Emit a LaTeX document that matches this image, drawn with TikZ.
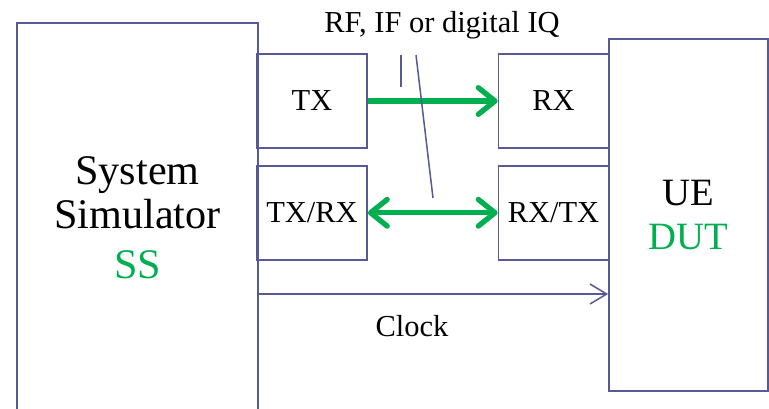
\documentclass[tikz,border=0pt]{standalone}
\usepackage{fontspec}
\setmainfont{Liberation Serif}
\usepackage{xcolor}
\usetikzlibrary{positioning,arrows.meta}
\definecolor{framecol}{RGB}{87,90,148}
\definecolor{signalgreen}{RGB}{0,176,80}

\begin{document}
\begin{tikzpicture}[
    x=0.03cm,
    y=-0.03cm,
    >={Straight Barb[length=0.5cm,width=0.6cm]},
    font=\fontsize{26}{30}\selectfont,
    every node/.style={align=center},
    unit/.style={draw=framecol, line width=1.5pt, rectangle,
        minimum width=3.3cm, minimum height=2.82cm},
    signal/.style={draw=signalgreen, line width=4.5pt,
        >={Straight Barb[round,length=0.5cm,width=0.8cm]}},
    thinline/.style={draw=framecol, line width=1.3pt}
]

\useasboundingbox (0,0) rectangle (769,408);

% System simulator
\node[
    unit,
    minimum width=7.23cm,
    minimum height=11.67cm,
    font=\fontsize{36}{38}\selectfont
] (ss) at (137.5,217.5) {System\\Simulator\\[4pt]\textcolor{signalgreen}{SS}};

% Tester ports
\node[unit] (tx) at (312,101) {TX};
\node[unit, below=0.48cm of tx] (txrx) {TX/RX};

% Device ports
\node[unit] (rx) at (553.5,101) {RX};
\node[unit, below=0.48cm of rx] (rxtx) {RX/TX};

% Device under test
\node[
    unit,
    minimum width=4.77cm,
    minimum height=10.56cm,
    font=\fontsize{33}{38}\selectfont
] (ue) at (688.5,215) {UE\\\textcolor{signalgreen}{DUT}};

% Labels
\node[anchor=base] (iq) at (442,32) {RF, IF or digital IQ};
\node[anchor=base] (clocklabel) at (412,336) {Clock};

% Signal paths
\draw[signal, ->] (tx.east) -- (rx.west);
\draw[signal, <->] (txrx.east) -- (rxtx.west);

% Clock
\coordinate (clk) at (400,294);
\draw[thinline, ->] (ss.east |- clk) -- (ue.west |- clk);

% Interface marks
\coordinate (markA) at (401,55);
\coordinate (markB) at (401,87);
\coordinate (markC) at (416,55);
\coordinate (markD) at (433,198);
\draw[thinline] (markA) -- (markB);
\draw[thinline] (markC) -- (markD);

\end{tikzpicture}
\end{document}
